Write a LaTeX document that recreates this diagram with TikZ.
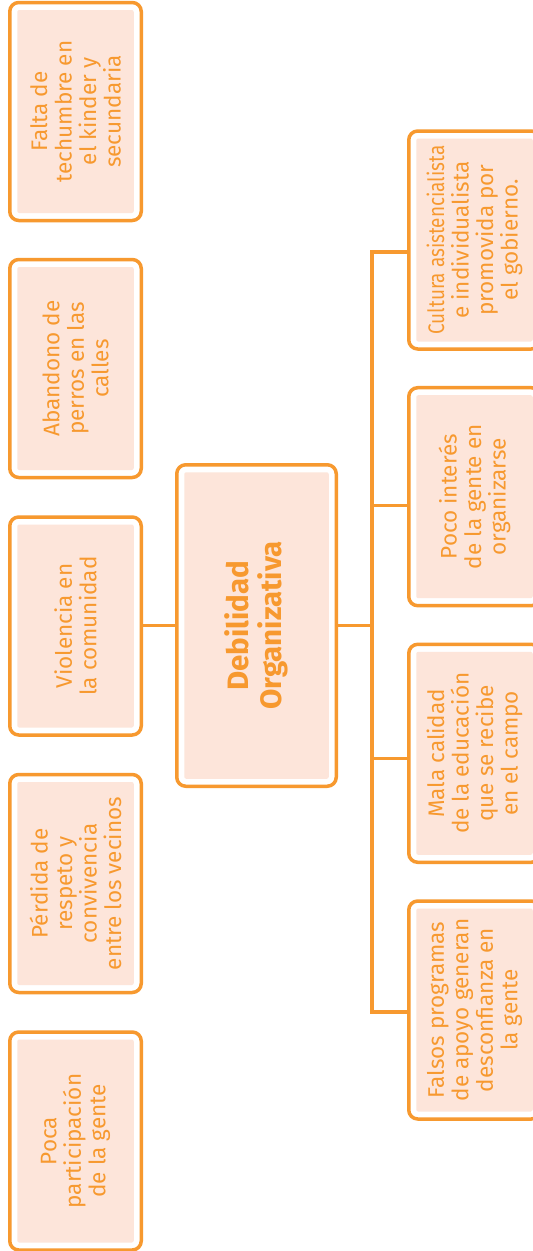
\documentclass[tikz,border=0pt]{standalone}
\usepackage{fontspec}
\setmainfont{Fira Sans}
\usetikzlibrary{calc}
\definecolor{orng}{HTML}{F7992F}
\definecolor{peach}{HTML}{FDE5DA}
\tikzset{
  box/.style={draw=orng, line width=3.5pt, rounded corners=9pt, fill=white, inner sep=0pt,
    path picture={\fill[peach, rounded corners=2pt]
      ($(path picture bounding box.north west)+(7.5pt,-7.5pt)$) rectangle
      ($(path picture bounding box.south east)+(-7.5pt,7.5pt)$);}},
  sidebox/.style={box, minimum width=131.5pt, minimum height=218pt},
  txt/.style={rotate=90, align=center, text=orng, inner sep=0pt,
    font=\fontsize{22.5}{24.5}\selectfont},
  ttl/.style={rotate=90, align=center, text=orng, inner sep=0pt,
    font=\bfseries\fontsize{29.5}{33}\selectfont},
  conn/.style={draw=orng, line width=3.2pt}
}
\begin{document}
\begin{tikzpicture}[x=1pt, y=-1pt]
\useasboundingbox (0,0) rectangle (533,1251);
\fill[white] (0,0) rectangle (533,1251);
\clip (0,0) rectangle (533,1251);

% junction points of the tree
\coordinate (j1) at (372,252);
\coordinate (j2) at (372,505.3);
\coordinate (j3) at (372,758.7);
\coordinate (j4) at (372,1012);

% boxes
\path (256.5,625.5) node[box, minimum width=159.5pt, minimum height=321.5pt] (c) {};
\path (75.5,111.5) node[sidebox] (l1) {};
\path (75.5,368.5) node[sidebox] (l2) {};
\path (75.5,626) node[sidebox] (l3) {};
\path (75.5,883.5) node[sidebox] (l4) {};
\path (75.5,1141) node[sidebox] (l5) {};
\path (474.5,240) node[sidebox] (r1) {};
\path (474.5,496.7) node[sidebox] (r2) {};
\path (474.5,753.3) node[sidebox] (r3) {};
\path (474.5,1010) node[sidebox] (r4) {};

% connectors
\draw[conn] (c.west) -- (c.west -| l3.east);
\draw[conn] (c.east) -- (c.east -| j1);
\draw[conn] (r1.west |- j1) -- (j1) -- (j4) -- (r4.west |- j4);
\draw[conn] (j2) -- (r2.west |- j2);
\draw[conn] (j3) -- (r3.west |- j3);

% texts
\node[ttl] (ct) at (c) {Debilidad\\Organizativa};
\node[txt] (l1t) at (l1) {Falta de\\techumbre en\\el kinder y\\secundaria};
\node[txt] (l2t) at (l2) {Abandono de\\perros en las\\calles};
\node[txt] (l3t) at (l3) {Violencia en\\la comunidad};
\node[txt] (l4t) at (l4) {Pérdida de\\respeto y\\convivencia\\entre los vecinos};
\node[txt] (l5t) at (l5) {Poca\\participación\\de la gente};
\node[txt] (r1t) at (r1) {\scalebox{0.84}[1]{Cultura asistencialista}\\e individualista\\promovida por\\el gobierno.};
\node[txt] (r2t) at (r2) {Poco interés\\de la gente en\\organizarse};
\node[txt] (r3t) at (r3) {Mala calidad\\de la educación\\que se recibe\\en el campo};
\node[txt] (r4t) at (r4) {Falsos programas\\de apoyo generan\\desconfianza en\\la gente};
\end{tikzpicture}
\end{document}
